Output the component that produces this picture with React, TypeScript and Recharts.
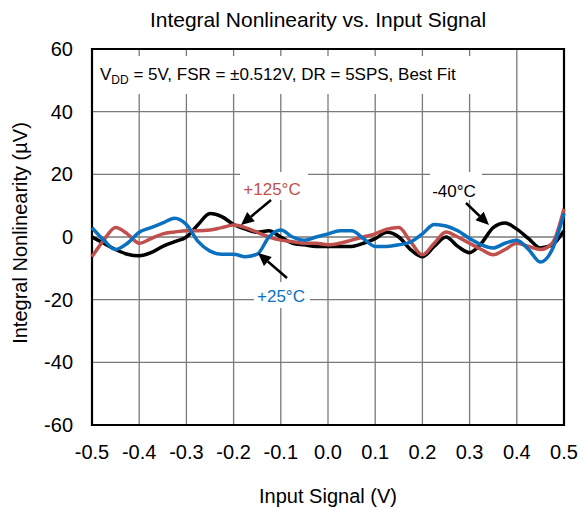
import React from 'react';
import { LineChart, Line, XAxis, YAxis, CartesianGrid, ReferenceArea } from 'recharts';

const inputSignal = [
  -0.5, -0.475, -0.45, -0.425, -0.4, -0.375, -0.35, -0.325, -0.3, -0.275, -0.25, -0.225, -0.2, -0.175,
  -0.15, -0.125, -0.1, -0.075, -0.05, -0.025, 0, 0.025, 0.05, 0.075, 0.1, 0.125, 0.15, 0.175, 0.2,
  0.225, 0.25, 0.275, 0.3, 0.325, 0.35, 0.375, 0.4, 0.425, 0.45, 0.475, 0.5,
];

const inlMinus40 = [
  0, -2, -4, -5.5, -6, -5, -3, -1.5, 0, 4, 7.5, 6.5, 4, 2.5,
  1.5, 2, 0, -2, -2.5, -3, -3, -3, -3, -2, -0.5, 1.5, 0, -4, -6.3,
  -3, 0, -3, -5, -2, 3, 4.5, 2.5, -0.5, -3.5, -2.5, 2,
];

const inlPlus25 = [
  3, -1, -4, -2, 1.5, 3, 4.5, 6, 4, -1.5, -4.5, -5.5, -5.5, -6.3,
  -5.5, 0, 2.2, 0, -1, 0, 1, 2, 2, -0.5, -3, -3, -2.5, -1.6, 1,
  4, 3.5, 2, -0.5, -2.5, -3.5, -2, -1, -4, -8, -4, 7.5,
];

const inlPlus125 = [
  -6.3, -1, 3, 1, -2, -0.5, 1, 1.6, 2, 2, 2.2, 3, 3.8, 3,
  1.5, 0, -1, -1.5, -2, -2, -2.5, -2, -1, 0, 1, 2.5, 3, -1.5, -5.7,
  -2, 1.6, 0, -2, -4, -5.7, -4, -2, -3, -4, -2, 9,
];

const xTicks = [-0.5, -0.4, -0.3, -0.2, -0.1, 0, 0.1, 0.2, 0.3, 0.4, 0.5];
const yTicks = [-60, -40, -20, 0, 20, 40, 60];

const font = '"Liberation Sans", Arial, sans-serif';

const rows = inputSignal.map((x, i) => ({
  x,
  m40: inlMinus40[i],
  p25: inlPlus25[i],
  p125: inlPlus125[i],
}));

const Arrow = ({ x1, y1, x2, y2 }: { x1: number; y1: number; x2: number; y2: number }) => {
  const a = Math.atan2(y2 - y1, x2 - x1);
  const len = 13;
  const w = 6;
  const bx = x2 - len * Math.cos(a);
  const by = y2 - len * Math.sin(a);
  const px = -Math.sin(a) * w;
  const py = Math.cos(a) * w;
  return (
    <g>
      <line x1={x1} y1={y1} x2={bx} y2={by} stroke="#000" strokeWidth={2.5} />
      <polygon points={`${x2},${y2} ${bx + px},${by + py} ${bx - px},${by - py}`} fill="#000" />
    </g>
  );
};

export default function App() {
  return (
    <div style={{ position: 'absolute', left: 0, top: 0, width: 580, height: 507, background: '#fff' }}>
      <LineChart
        width={580}
        height={507}
        data={rows}
        margin={{ top: 49, right: 16, bottom: 42, left: 0 }}
        style={{ fontFamily: font }}
      >
        <CartesianGrid stroke="#7a7a7a" strokeWidth={1.3} />
        <XAxis
          dataKey="x"
          type="number"
          domain={[-0.5, 0.5]}
          ticks={xTicks}
          tickFormatter={(v: number) => v.toFixed(1)}
          tickSize={0}
          tickMargin={20}
          axisLine={false}
          height={40}
          tick={{ fill: '#000', fontSize: 20 }}
        />
        <YAxis
          type="number"
          domain={[-60, 60]}
          ticks={yTicks}
          tickSize={0}
          tickMargin={19}
          axisLine={false}
          width={92}
          tick={{ fill: '#000', fontSize: 20 }}
        />
        <ReferenceArea x1={-0.5} x2={0.5} y1={-60} y2={60} fill="none" stroke="#000" strokeWidth={2.2} />
        <Line dataKey="m40" type="monotone" stroke="#000" strokeWidth={3.5} dot={false} isAnimationActive={false} />
        <Line dataKey="p125" type="monotone" stroke="#c0504d" strokeWidth={3.5} dot={false} isAnimationActive={false} />
        <Line dataKey="p25" type="monotone" stroke="#0a70c0" strokeWidth={3.5} dot={false} isAnimationActive={false} />
      </LineChart>
      <svg
        width={580}
        height={507}
        style={{ position: 'absolute', left: 0, top: 0, pointerEvents: 'none', fontFamily: font }}
      >
        <text x={318} y={27} textAnchor="middle" fontSize={21} fill="#000">
          Integral Nonlinearity vs. Input Signal
        </text>
        <text x={328} y={503} textAnchor="middle" fontSize={20} fill="#000">
          Input Signal (V)
        </text>
        <text x={27} y={233} textAnchor="middle" fontSize={20} fill="#000" transform="rotate(-90 27 233)">
          Integral Nonlinearity (µV)
        </text>

        <rect x={94} y={56} width={414} height={38} fill="#fff" />
        <text x={100} y={80} fontSize={17} fill="#000">
          V<tspan fontSize={12} dy={4}>DD</tspan>
          <tspan dy={-4}> = 5V, FSR = ±0.512V, DR = 5SPS, Best Fit</tspan>
        </text>

        <rect x={240} y={172} width={68} height={28} fill="#fff" />
        <text x={272} y={195} textAnchor="middle" fontSize={17} fill="#c0504d">
          +125°C
        </text>
        <Arrow x1={271} y1={200} x2={241} y2={225} />

        <rect x={430} y={172} width={52} height={28} fill="#fff" />
        <text x={454} y={197} textAnchor="middle" fontSize={17} fill="#000">
          -40°C
        </text>
        <Arrow x1={466} y1={203} x2={489} y2={225} />

        <rect x={254} y={282} width={56} height={26} fill="#fff" />
        <text x={281} y={302} textAnchor="middle" fontSize={17} fill="#0a70c0">
          +25°C
        </text>
        <Arrow x1={287} y1={278} x2={258} y2={253} />
      </svg>
    </div>
  );
}
